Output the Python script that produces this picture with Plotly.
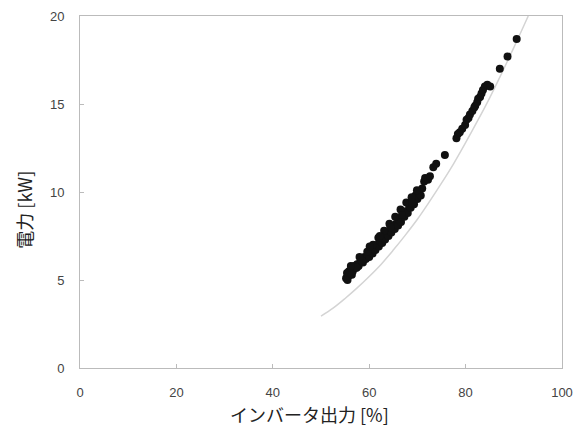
import plotly.graph_objects as go

# measured data points: inverter output [%] vs power [kW]
inv_output = [
    55.2, 55.4, 55.6, 55.8, 56.0, 56.3, 56.6, 56.9, 57.2, 57.5,
    57.8, 58.1, 58.4, 58.7, 59.0, 59.3, 59.7, 60.0, 60.3, 60.7,
    61.0, 61.3, 61.7, 62.0, 62.3, 62.7, 63.0, 63.3, 63.6, 64.0,
    64.3, 64.6, 65.0, 65.3, 65.6, 66.0, 66.3, 66.6, 67.0, 67.3,
    67.6, 68.0, 68.3, 68.6, 69.0, 69.3, 69.6, 70.0, 70.3, 70.7,
    71.0, 71.4, 71.6, 72.2, 72.6, 73.3, 73.9, 75.7,
    78.1, 78.4, 78.8, 79.3, 79.9, 80.2, 80.6, 80.9, 81.4, 81.8,
    82.0, 82.4, 82.6, 83.0, 83.3, 83.6, 84.0, 84.5, 85.1,
    87.1, 88.7, 90.6,
    55.5, 56.4, 57.4, 58.5, 59.6, 60.8, 61.9, 63.1, 64.2, 65.4,
    66.5, 67.7, 68.8, 69.9,
    56.2, 58.0, 60.1, 62.2, 64.4, 66.8, 68.9,
]
power_kw = [
    5.1, 5.4, 5.2, 5.5, 5.3, 5.6, 5.5, 5.8, 5.7, 5.9,
    5.8, 6.0, 6.1, 6.0, 6.3, 6.2, 6.4, 6.3, 6.6, 6.5,
    6.8, 6.7, 7.0, 6.9, 7.2, 7.1, 7.4, 7.3, 7.6, 7.5,
    7.8, 7.7, 8.0, 7.9, 8.2, 8.1, 8.4, 8.3, 8.7, 8.6,
    8.9, 8.8, 9.2, 9.1, 9.5, 9.3, 9.8, 9.6, 10.0, 9.8,
    10.2, 10.6, 10.8, 10.7, 10.9, 11.4, 11.6, 12.1,
    13.05, 13.3, 13.4, 13.6, 13.8, 14.1, 14.2, 14.4, 14.6, 14.8,
    14.9, 15.1, 15.3, 15.4, 15.6, 15.8, 16.0, 16.1, 16.0,
    17.0, 17.7, 18.7,
    5.0, 5.3, 5.7, 6.1, 6.6, 7.0, 7.4, 7.8, 8.2, 8.6,
    9.0, 9.4, 9.7, 10.1,
    5.8, 6.3, 6.9, 7.5, 8.0, 8.7, 9.4,
]

# approximation curve
curve_x = [50, 52.5, 55, 57.5, 60, 62.5, 65, 67.5, 70, 72.5, 75, 77.5, 80, 82.5, 85, 87.5, 90, 92.5, 93]
curve_y = [2.95, 3.4, 3.95, 4.55, 5.2, 5.9, 6.7, 7.55, 8.45, 9.45, 10.5, 11.6, 12.8, 14.05, 15.35, 16.75, 18.2, 19.7, 20.0]

x_ticks = [0, 20, 40, 60, 80, 100]
y_ticks = [0, 5, 10, 15, 20]
x_title = "インバータ出力 [%]"
y_title = "電力 [kW]"

fig = go.Figure()
fig.add_trace(go.Scatter(
    x=curve_x, y=curve_y, mode="lines",
    line=dict(color="#d4d4d4", width=1.5, shape="spline"),
    hoverinfo="skip", showlegend=False,
))
fig.add_trace(go.Scatter(
    x=inv_output, y=power_kw, mode="markers",
    marker=dict(color="#111111", size=8, line=dict(width=0)),
    showlegend=False,
))

tickfont = dict(family="Liberation Sans, Arial, sans-serif", size=13, color="#444444")
titlefont = dict(family="Noto Sans CJK JP, sans-serif", size=18, color="#222222")

fig.update_layout(
    width=579, height=419,
    margin=dict(l=72, r=25, t=8, b=59),
    paper_bgcolor="white", plot_bgcolor="white",
    xaxis=dict(
        range=[0, 100], tickvals=x_ticks, ticks="inside", ticklen=4,
        tickcolor="#bbbbbb", showgrid=False, zeroline=False,
        showline=True, linecolor="#bbbbbb", linewidth=1, mirror=True,
        tickfont=tickfont, ticklabelstandoff=12, automargin=False,
    ),
    yaxis=dict(
        range=[0, 20], tickvals=y_ticks, ticks="inside", ticklen=4,
        tickcolor="#bbbbbb", showgrid=False, zeroline=False,
        showline=True, linecolor="#bbbbbb", linewidth=1, mirror=True,
        tickfont=tickfont, ticklabelstandoff=12, automargin=False,
    ),
    annotations=[
        dict(text=x_title, xref="paper", yref="paper", x=0.477, y=-0.131,
             xanchor="center", yanchor="middle", showarrow=False, font=titlefont),
        dict(text=y_title, xref="paper", yref="paper", x=-0.118, y=0.45,
             xanchor="center", yanchor="middle", textangle=-90,
             showarrow=False, font=titlefont),
    ],
)

fig.write_html("out.html")
